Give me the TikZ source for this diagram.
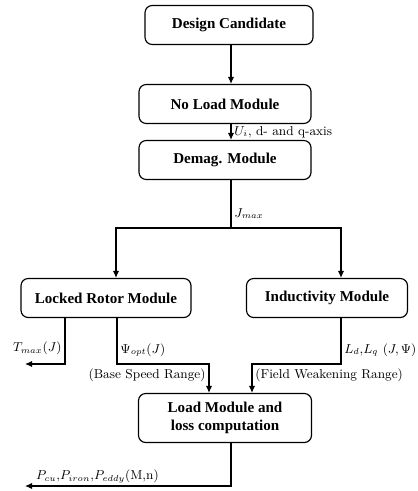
\documentclass[tikz,border=0pt]{standalone}
\usepackage{fontspec}
\newfontfamily\boxfont{Liberation Serif}
\usetikzlibrary{arrows.meta,calc}

\begin{document}
\begin{tikzpicture}[x=0.0245cm,y=-0.0245cm,
    module/.style={draw,thick,rounded corners=5pt,align=center,inner sep=0pt,
        font=\boxfont\bfseries\fontsize{10.5}{12.5}\selectfont},
    flow/.style={thick,-{Latex[length=5pt,width=4.5pt]}},
    lbl/.style={font=\small,inner sep=2pt}]
    \def\px{0.0245cm}
    \def\H{39}

    \useasboundingbox (0,0) rectangle (417,491);

    % modules
    \node[module, minimum width=168*\px, minimum height=\H*\px] (design) at (229,25) {Design Candidate};
    \node[module, minimum width=172*\px, minimum height=\H*\px] (noload) at (225,104) {No Load Module};
    \node[module, minimum width=172*\px, minimum height=\H*\px] (demag) at (225,160) {Demag. Module};
    \node[module, minimum width=170*\px, minimum height=\H*\px] (locked) at (106,298) {Locked Rotor Module};
    \node[module, minimum width=161*\px, minimum height=\H*\px] (induct) at (327,298) {Inductivity Module};
    \node[module, minimum width=173*\px, minimum height=49*\px] (load) at (225,418) {Load Module and\\ loss computation};

    \coordinate (axis) at (231,0);
    \coordinate (split) at (231,228);
    \coordinate (tmaxend) at (25,364);
    \coordinate (lossend) at (25,486);

    \draw[flow] (design.south -| axis) -- (noload.north -| axis);
    \draw[flow] (noload.south -| axis) -- (demag.north -| axis)
        node[lbl, right, midway] (ui) {$U_i$, d- and q-axis};
    \draw[thick] (demag.south -| axis) -- (split)
        node[lbl, right, pos=0.7] (jmax) {$J_{max}$};
    \draw[flow] (split) -| ($(locked.north)+(10,0)$);
    \draw[flow] (split) -| ($(induct.north)+(14,0)$);

    % locked rotor outputs
    \draw[flow] ($(locked.south)+(-41,0)$) |- (tmaxend)
        node[lbl, left, pos=0.33] (tmax) {$T_{max}(J)$};
    \draw[flow] ($(locked.south)+(11,0)$) |- ($(load.north)+(-16,-29)$)
        node[lbl, right, pos=0.35] (psi) {$\Psi_{opt}(J)$}
        -- ($(load.north)+(-16,0)$) node[lbl, left, pos=0.4] (base) {(Base Speed Range)};

    % inductivity outputs
    \draw[flow] ($(induct.south)+(14,0)$) |- ($(load.north)+(27,-29)$)
        node[lbl, right, pos=0.35] (ldq) {$L_d$,$L_q$ $(J,\Psi)$}
        -- ($(load.north)+(27,0)$) node[lbl, right, pos=0.4] (field) {(Field Weakening Range)};

    % losses
    \draw[flow] (load.south -| axis) |- (lossend);
    \node[lbl, above right] (loss) at ($(lossend)+(8,0)$) {$P_{cu}$,$P_{iron}$,$P_{eddy}$(M,n)};
\end{tikzpicture}
\end{document}
